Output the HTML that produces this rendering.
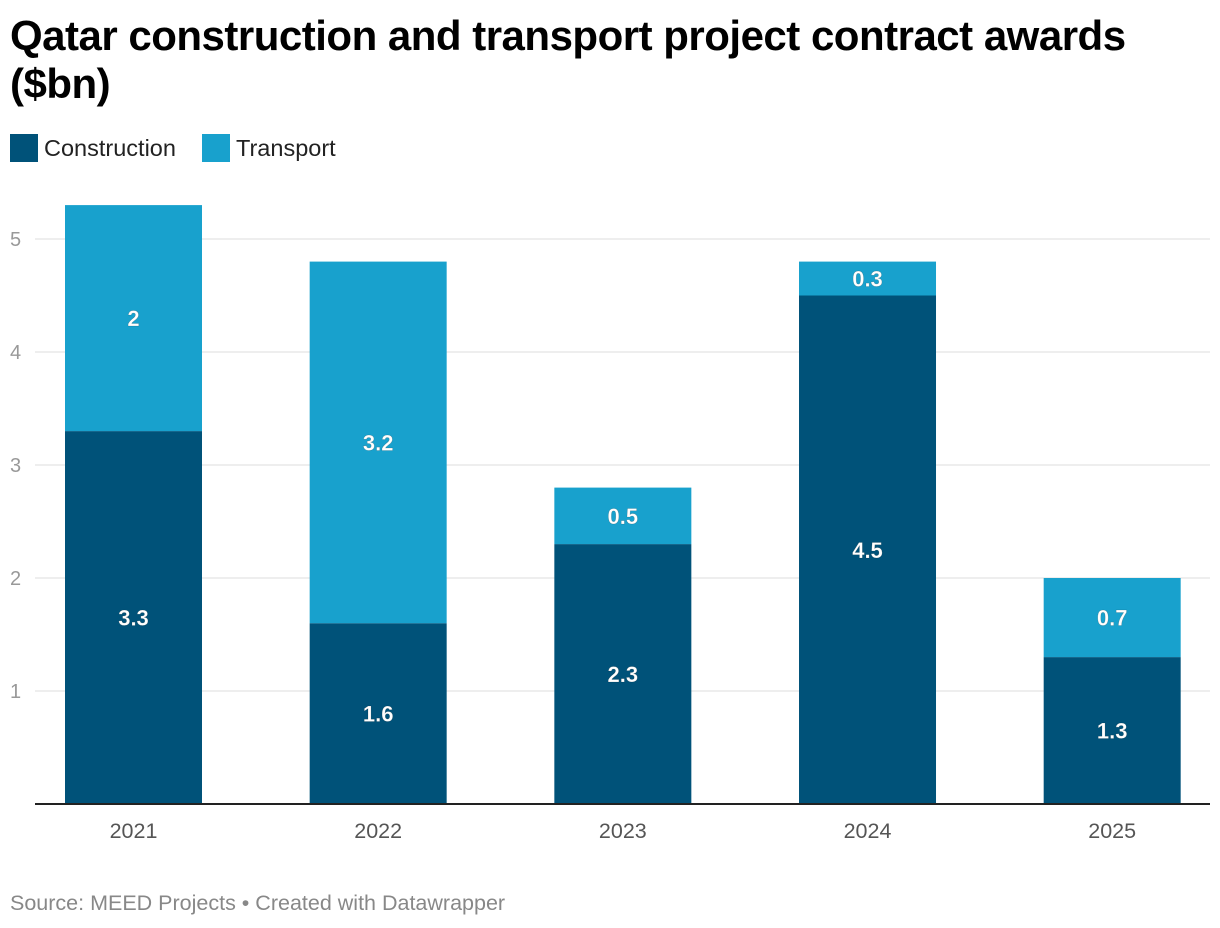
<!DOCTYPE html>
<html><head><meta charset="utf-8"><style>
body{margin:0;width:1220px;height:928px;background:#fff;font-family:"Liberation Sans",sans-serif;overflow:hidden;position:relative}
#title{position:absolute;left:10px;top:12px;font-size:42px;font-weight:bold;line-height:48px;color:#000;width:1150px;letter-spacing:-0.5px}
.leg{position:absolute;top:134px;height:28px;display:flex;align-items:center;font-size:23.5px;color:#222}
.sw{width:28px;height:28px;margin-right:6px}
#source{position:absolute;left:10px;top:891px;font-size:21.5px;color:#888}
</style></head><body>
<div id="title">Qatar construction and transport project contract awards ($bn)</div>
<div class="leg" style="left:10px"><div class="sw" style="background:#005279"></div>Construction</div>
<div class="leg" style="left:202px"><div class="sw" style="background:#18a1cd"></div>Transport</div>
<svg id="chart" width="1220" height="928" style="position:absolute;left:0;top:0"></svg>
<div id="source">Source: MEED Projects • Created with Datawrapper</div>
<script>
const categories=["2021","2022","2023","2024","2025"];
const construction=[3.3,1.6,2.3,4.5,1.3];
const transport=[2,3.2,0.5,0.3,0.7];
const yTicks=[1,2,3,4,5];
const NS="http://www.w3.org/2000/svg";
const svg=document.getElementById('chart');
const y=v=>804-v*113;
const x=i=>65+i*244.67;
const bw=137;
function mk(t,a){const e=document.createElementNS(NS,t);for(const k in a)e.setAttribute(k,a[k]);svg.appendChild(e);return e;}
yTicks.forEach(t=>{
 const l=mk('line',{x1:35,x2:1210,y1:y(t),y2:y(t),stroke:'#ddd','stroke-width':1});
 
 
 const tx=mk('text',{x:10,y:y(t)+7,'font-size':20,fill:'#999'});tx.textContent=t;
 
 
});
function label(cx,cy,v,nm){
 const t=mk('text',{x:cx,y:cy+8,'text-anchor':'middle','font-size':22,'font-weight':'bold',fill:'#fff',stroke:'rgba(0,0,0,0.25)','stroke-width':0.5});
 t.textContent=v;
 
 
}
categories.forEach((c,i)=>{
 const c0=construction[i],t0=transport[i];
 const r1=mk('rect',{x:x(i),y:y(c0),width:bw,height:y(0)-y(c0),fill:'#005279'});
 
 
 const r2=mk('rect',{x:x(i),y:y(c0+t0),width:bw,height:y(c0)-y(c0+t0),fill:'#18a1cd'});
 
 
 label(x(i)+bw/2,(y(0)+y(c0))/2,c0,'value-construction-'+c);
 label(x(i)+bw/2,(y(c0)+y(c0+t0))/2,t0,'value-transport-'+c);
 const tx=mk('text',{x:x(i)+bw/2,y:838,'text-anchor':'middle','font-size':21.5,fill:'#555'});tx.textContent=c;
 
 
});
const base=mk('line',{x1:35,x2:1210,y1:804,y2:804,stroke:'#222','stroke-width':2});


</script>
</body></html>
